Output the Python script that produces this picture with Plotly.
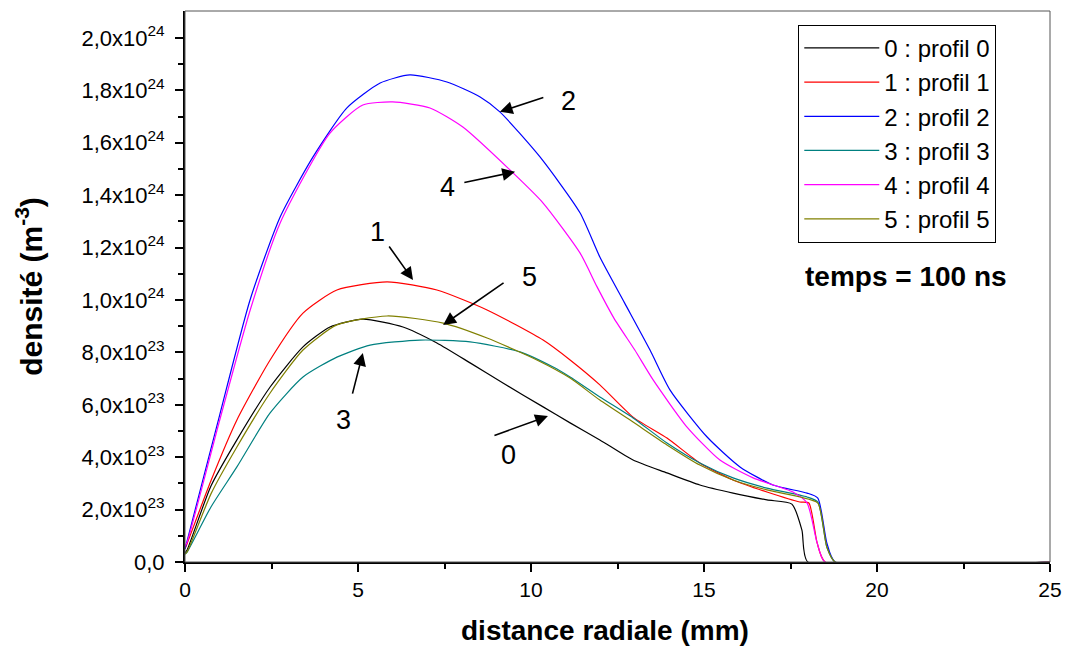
import plotly.graph_objects as go

# values in units of 1e23 m^-3, x in mm
x0 = [0, 0.06, 0.75, 1.5, 2.46, 3.41, 4.19, 5.14, 6.30, 7.28, 8.24, 9.19, 10.35, 11.13, 11.99, 12.95, 13.93, 14.88, 15.84, 16.82, 17.54, 17.83, 18.0, 25]
y0 = [0.35, 0.46, 2.9, 4.66, 6.68, 8.21, 8.97, 9.27, 8.97, 8.36, 7.60, 6.83, 5.92, 5.31, 4.66, 3.89, 3.40, 2.94, 2.63, 2.37, 2.21, 1.22, 0, 0]

x1 = [0, 0.06, 0.75, 1.5, 2.46, 3.41, 4.39, 5.84, 7.28, 8.73, 10.35, 11.13, 11.99, 12.95, 13.93, 14.88, 15.84, 16.82, 17.77, 18.03, 18.27, 18.5, 25]
y1 = [0.5, 0.7, 3.1, 5.42, 7.71, 9.50, 10.38, 10.69, 10.38, 9.62, 8.47, 7.71, 6.76, 5.53, 4.73, 3.78, 3.13, 2.67, 2.29, 2.25, 0.73, 0, 0]

x2 = [0, 0.06, 1.0, 1.88, 2.75, 3.70, 4.68, 5.64, 6.50, 7.57, 8.53, 9.10, 10.26, 11.42, 11.99, 12.7, 13.44, 14.02, 15.09, 16.04, 16.99, 17.98, 18.29, 18.55, 18.79, 25]
y2 = [0.5, 0.8, 5.6, 10.0, 13.17, 15.46, 17.33, 18.28, 18.59, 18.32, 17.75, 17.18, 15.46, 13.32, 11.64, 9.9, 8.09, 6.56, 4.77, 3.63, 2.94, 2.63, 2.44, 0.73, 0, 0]

x3 = [0, 0.06, 0.75, 1.5, 2.46, 3.41, 4.39, 5.35, 6.79, 8.24, 9.68, 10.64, 11.13, 11.99, 12.95, 13.93, 14.88, 15.84, 16.82, 17.98, 18.29, 18.55, 18.79, 25]
y3 = [0.3, 0.38, 2.1, 3.63, 5.69, 7.06, 7.82, 8.28, 8.47, 8.40, 8.02, 7.44, 7.06, 6.30, 5.5, 4.54, 3.78, 3.21, 2.82, 2.48, 2.29, 0.57, 0, 0]

x4 = [0, 0.06, 1.0, 1.88, 2.75, 4.19, 5.14, 6.0, 7.08, 8.03, 9.48, 10.35, 11.42, 11.91, 12.4, 13.0, 13.53, 14.51, 15.46, 16.42, 17.57, 17.98, 18.27, 18.5, 25]
y4 = [0.6, 0.75, 5.4, 9.6, 12.94, 16.37, 17.44, 17.56, 17.33, 16.60, 14.85, 13.70, 11.79, 10.50, 9.3, 8.09, 6.95, 5.15, 3.89, 3.21, 2.67, 2.25, 0.73, 0, 0]

x5 = [0, 0.06, 0.75, 1.5, 2.46, 3.41, 4.39, 5.84, 7.46, 8.73, 10.17, 11.13, 11.99, 12.95, 13.93, 14.88, 15.84, 16.82, 17.77, 18.29, 18.55, 18.79, 25]
y5 = [0.3, 0.38, 2.6, 4.39, 6.45, 8.09, 9.05, 9.39, 9.12, 8.55, 7.71, 7.02, 6.18, 5.34, 4.47, 3.70, 3.13, 2.75, 2.48, 2.25, 0.57, 0, 0]

names = ["0 : profil 0", "1 : profil 1", "2 : profil 2", "3 : profil 3", "4 : profil 4", "5 : profil 5"]
colors = ["#000000", "#FF0000", "#0000FF", "#008080", "#FF00FF", "#808000"]
xs = [x0, x1, x2, x3, x4, x5]
ys = [y0, y1, y2, y3, y4, y5]

ytickvals = [0, 2, 4, 6, 8, 10, 12, 14, 16, 18, 20]
yticktext = ["0,0", "2,0x10<sup>23</sup>", "4,0x10<sup>23</sup>", "6,0x10<sup>23</sup>", "8,0x10<sup>23</sup>",
             "1,0x10<sup>24</sup>", "1,2x10<sup>24</sup>", "1,4x10<sup>24</sup>", "1,6x10<sup>24</sup>",
             "1,8x10<sup>24</sup>", "2,0x10<sup>24</sup>"]
xtickvals = [0, 5, 10, 15, 20, 25]

fig = go.Figure()
for x, y, n, c in zip(xs, ys, names, colors):
    fig.add_trace(go.Scatter(x=x, y=y, mode="lines", name=n,
                             line=dict(color=c, width=1.2, shape="spline", smoothing=0.6)))

FONT = "Liberation Sans, Arial, sans-serif"

# label annotations: (label, text_x, text_y, tail_x, tail_y, head_x, head_y)
labels = [
    ("2", 11.07, 17.6, 10.40, 17.75, 9.10, 17.18),
    ("4", 7.60, 14.31, 8.03, 14.47, 9.54, 14.89),
    ("1", 5.55, 12.60, 5.87, 12.10, 6.59, 10.76),
    ("5", 9.97, 10.88, 9.25, 10.69, 7.46, 9.05),
    ("3", 4.57, 5.42, 4.83, 6.37, 5.14, 7.98),
    ("0", 9.34, 4.08, 8.90, 4.81, 10.49, 5.57),
]
for lab, tx, ty, ax_, ay_, hx, hy in labels:
    fig.add_annotation(x=tx, y=ty, text=lab, showarrow=False,
                       font=dict(family=FONT, size=27, color="black"))
    fig.add_annotation(x=hx, y=hy, ax=ax_, ay=ay_, axref="x", ayref="y", xref="x", yref="y",
                       text="", showarrow=True, arrowhead=2, arrowsize=1.6, arrowwidth=1.6,
                       arrowcolor="black")

fig.add_annotation(x=0.834, y=0.518, xref="paper", yref="paper", xanchor="center", yanchor="middle",
                   text="<b>temps = 100 ns</b>",
                   showarrow=False, font=dict(family=FONT, size=28, color="black"))

# x-axis title (placed as annotation to match the reference position)
fig.add_annotation(x=0.486, y=-0.124, xref="paper", yref="paper", xanchor="center", yanchor="middle",
                   text="<b>distance radiale (mm)</b>", showarrow=False,
                   font=dict(family=FONT, size=28, color="black"))

# thin frame
fig.add_shape(type="rect", xref="paper", yref="paper", x0=0, y0=0, x1=1, y1=1,
              line=dict(color="#555555", width=1), layer="above")

fig.update_layout(
    width=1056, height=638,
    margin=dict(l=177, r=14, t=3, b=84),
    paper_bgcolor="white", plot_bgcolor="white",
    font=dict(family=FONT, size=22, color="black"),
    showlegend=True,
    legend=dict(x=0.709, y=0.975, xanchor="left", yanchor="top",
                bordercolor="black", borderwidth=1, bgcolor="white",
                font=dict(family=FONT, size=24, color="black"),
                tracegroupgap=0, itemwidth=75),
    xaxis=dict(range=[0, 25], tickvals=xtickvals, ticks="outside", ticklen=8, tickwidth=2,
               tickcolor="black", showline=True, linecolor="black", linewidth=2,
               showgrid=False, zeroline=False,
               minor=dict(tickvals=[2.5, 7.5, 12.5, 17.5, 22.5], ticks="outside", ticklen=5,
                          tickwidth=2, tickcolor="black"),
               tickfont=dict(family=FONT, size=21)),
    yaxis=dict(range=[0, 21.03], tickvals=ytickvals, ticktext=yticktext, ticks="outside", ticklen=8,
               tickwidth=2, tickcolor="black", showline=True, linecolor="black", linewidth=2,
               showgrid=False, zeroline=False, ticklabelstandoff=6,
               minor=dict(tickvals=[1, 3, 5, 7, 9, 11, 13, 15, 17, 19], ticks="outside", ticklen=5,
                          tickwidth=2, tickcolor="black"),
               tickfont=dict(family=FONT, size=22),
               title=dict(text="<b>densité (m<sup>-3</sup>)</b>", font=dict(family=FONT, size=30), standoff=30)),
)

fig.write_html("out.html")
